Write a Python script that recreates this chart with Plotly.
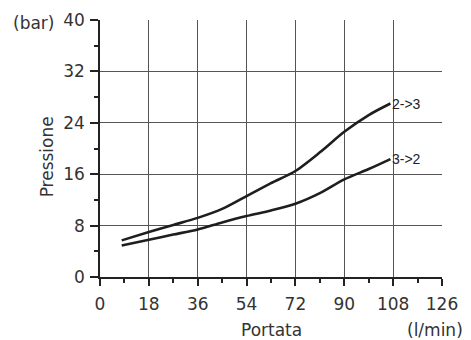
import plotly.graph_objects as go

flow = [8, 18, 27, 36, 45, 54, 63, 72, 81, 90, 99, 107]
p_2_3 = [5.7, 7.0, 8.1, 9.2, 10.6, 12.6, 14.6, 16.5, 19.4, 22.6, 25.2, 27.0]
p_3_2 = [4.9, 5.8, 6.6, 7.4, 8.5, 9.5, 10.35, 11.4, 13.05, 15.2, 16.8, 18.35]
series_names = ["2->3", "3->2"]
x_ticks = [0, 18, 36, 54, 72, 90, 108, 126]
y_ticks = [0, 8, 16, 24, 32, 40]

FONT = "DejaVu Sans"
FS = 17
TXT = "#333"
fig = go.Figure()
for name, vals in zip(series_names, [p_2_3, p_3_2]):
    fig.add_trace(go.Scatter(x=flow, y=vals, mode="lines", name=name,
                             line=dict(color="#1e1e1e", width=2.6, shape="spline", smoothing=0.8),
                             showlegend=False))
    fig.add_annotation(x=flow[-1], y=vals[-1], text=name, showarrow=False,
                       xanchor="left", yanchor="middle", xshift=0,
                       font=dict(family="Liberation Sans", size=14, color="#222"))

# page body has an 8px margin, so the figure is 8px smaller than the window
fig.update_layout(
    width=463, height=332,
    margin=dict(l=92, r=29, t=12, b=63),
    plot_bgcolor="white", paper_bgcolor="white",
    font=dict(family=FONT, size=FS, color=TXT),
)
fig.update_xaxes(range=[0, 126], tickvals=x_ticks, ticktext=[str(v) for v in x_ticks],
                 showgrid=True, gridcolor="#555", gridwidth=1,
                 showline=True, linecolor="#222", linewidth=1.5,
                 ticks="outside", ticklen=7, tickcolor="#222", tickwidth=1.5,
                 minor=dict(dtick=9, tick0=0, ticks="outside", ticklen=4, tickcolor="#222", showgrid=False),
                 ticklabelstandoff=4, automargin=False,
                 zeroline=False)
fig.update_yaxes(range=[0, 40], tickvals=y_ticks, ticktext=[str(v) for v in y_ticks],
                 showgrid=True, gridcolor="#555", gridwidth=1,
                 showline=True, linecolor="#222", linewidth=1.5,
                 ticks="outside", ticklen=8, tickcolor="#222", tickwidth=1.5,
                 minor=dict(dtick=4, tick0=0, ticks="outside", ticklen=4, tickcolor="#222", showgrid=False),
                 ticklabelstandoff=2, automargin=False,
                 zeroline=False)
fig.add_annotation(xref="paper", yref="paper", x=-0.129, y=0.99, text="(bar)", showarrow=False,
                   xanchor="right", yanchor="middle", font=dict(family=FONT, size=FS, color=TXT))
fig.add_annotation(xref="paper", yref="paper", x=-0.156, y=0.468, text="Pressione", showarrow=False,
                   textangle=-90, xanchor="center", yanchor="middle", font=dict(family=FONT, size=FS, color=TXT))
fig.add_annotation(xref="paper", yref="paper", x=0.5, y=-0.205, text="Portata", showarrow=False,
                   xanchor="center", yanchor="middle", font=dict(family=FONT, size=FS, color=TXT))
fig.add_annotation(xref="paper", yref="paper", x=1.068, y=-0.205, text="(l/min)", showarrow=False,
                   xanchor="right", yanchor="middle", font=dict(family=FONT, size=FS, color=TXT))
fig.write_html("out.html")
